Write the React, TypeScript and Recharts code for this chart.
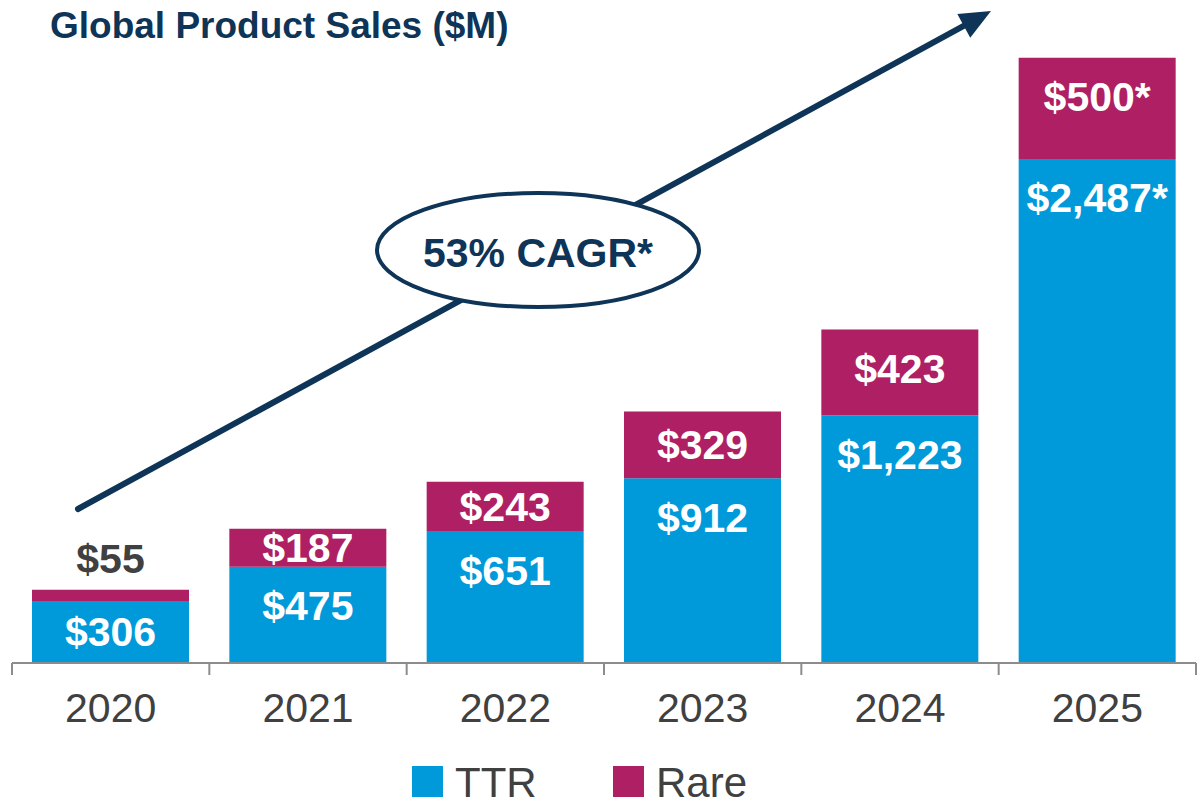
import React from 'react';
import { BarChart, Bar, XAxis, YAxis, LabelList, Legend, Customized } from 'recharts';

const years = ['2020', '2021', '2022', '2023', '2024', '2025'];
const ttrSales = [306, 475, 651, 912, 1223, 2487];
const rareSales = [55, 187, 243, 329, 423, 500];
const estimateMarks = ['', '', '', '', '', '*'];
const seriesNames = ['TTR', 'Rare'];
const boundaryTicks = [-0.5, 0.5, 1.5, 2.5, 3.5, 4.5, 5.5];
const chartTitle = 'Global Product Sales ($M)';
const cagrText = '53% CAGR*';

const FONT = '"Liberation Sans", Arial, Helvetica, sans-serif';
const TTR_COLOR = '#009ADA';
const RARE_COLOR = '#AE1F63';
const NAVY = '#0E3457';
const GREY_TEXT = '#404040';
const AXIS_GREY = '#8C8C8C';

const data = years.map((year, i) => ({
  year,
  slot: i,
  ttr: ttrSales[i],
  rare: rareSales[i],
}));

const makeLabel = (values: number[]) => (props: any) => {
  const vb = props.viewBox || {};
  const x = Number(props.x ?? vb.x);
  const y = Number(props.y ?? vb.y);
  const width = Number(props.width ?? vb.width);
  const height = Math.abs(Number(props.height ?? vb.height));
  let index = props.index;
  if (index === undefined || index === null) index = values.indexOf(Number(props.value));
  const value = Number(props.value);
  const text = `$${value.toLocaleString('en-US')}${estimateMarks[index] || ''}`;
  const cx = x + width / 2;
  let cy: number;
  let fill = '#FFFFFF';
  if (height < 24) {
    cy = y - 31;
    fill = GREY_TEXT;
  } else {
    cy = y + Math.min(39, height / 2);
  }
  return (
    <text
      x={cx}
      y={cy + 14.5}
      textAnchor="middle"
      fontSize={41}
      fontWeight="bold"
      fontFamily={FONT}
      fill={fill}
    >
      {text}
    </text>
  );
};

const Annotations = () => {
  const start = { x: 78, y: 509 };
  const tip = { x: 991, y: 11 };
  const dx = tip.x - start.x;
  const dy = tip.y - start.y;
  const len = Math.sqrt(dx * dx + dy * dy);
  const ux = dx / len;
  const uy = dy / len;
  const headLen = 31;
  const headHalf = 13.5;
  const base = { x: tip.x - ux * headLen, y: tip.y - uy * headLen };
  const px = -uy;
  const py = ux;
  const c1 = { x: base.x + px * headHalf, y: base.y + py * headHalf };
  const c2 = { x: base.x - px * headHalf, y: base.y - py * headHalf };
  const lineEnd = { x: tip.x - ux * (headLen - 2), y: tip.y - uy * (headLen - 2) };
  return (
    <g>
      <text x={50} y={38} fontSize={37} fontWeight="bold" fontFamily={FONT} fill={NAVY}>
        {chartTitle}
      </text>
      <line
        x1={start.x}
        y1={start.y}
        x2={lineEnd.x}
        y2={lineEnd.y}
        stroke={NAVY}
        strokeWidth={6}
        strokeLinecap="round"
      />
      <polygon points={`${tip.x},${tip.y} ${c1.x},${c1.y} ${c2.x},${c2.y}`} fill={NAVY} />
      <ellipse cx={538} cy={250} rx={161} ry={57} fill="#FFFFFF" stroke={NAVY} strokeWidth={4} />
      <text
        x={538}
        y={267}
        textAnchor="middle"
        fontSize={41}
        fontWeight="bold"
        fontFamily={FONT}
        fill={NAVY}
      >
        {cagrText}
      </text>
    </g>
  );
};

const LegendContent = () => {
  const colors = [TTR_COLOR, RARE_COLOR];
  const starts = [0, 201];
  return (
    <svg width={400} height={50} style={{ display: 'block', overflow: 'visible' }}>
      {seriesNames.map((name, i) => (
        <g key={name}>
          <rect x={starts[i]} y={16} width={31} height={31} fill={colors[i]} />
          <text
            x={starts[i] + 43}
            y={47}
            fontSize={42}
            fontFamily={FONT}
            fill={GREY_TEXT}
          >
            {name}
          </text>
        </g>
      ))}
    </svg>
  );
};

const NoTickLabel = () => <g />;

export default function App() {
  return (
    <div style={{ position: 'absolute', left: 0, top: 0, width: 1197, height: 798, background: '#FFFFFF' }}>
      <BarChart
        width={1197}
        height={798}
        data={data}
        margin={{ top: 55, right: 1, left: 12, bottom: 55 }}
        barCategoryGap={20}
      >
        <XAxis
          xAxisId="axisA"
          type="number"
          dataKey="slot"
          domain={[-0.5, 5.5]}
          ticks={boundaryTicks}
          interval={0}
          allowDataOverflow
          tick={NoTickLabel}
          tickSize={12}
          height={1}
          axisLine={{ stroke: AXIS_GREY, strokeWidth: 2 }}
          tickLine={{ stroke: AXIS_GREY, strokeWidth: 2 }}
        />
        <XAxis
          xAxisId="axisB"
          dataKey="year"
          height={79}
          interval={0}
          axisLine={false}
          tickLine={false}
          tickSize={17}
          tickMargin={12}
          tick={{ fill: GREY_TEXT, fontSize: 41, fontFamily: FONT }}
        />
        <YAxis hide domain={[0, 3000]} />
        <Legend
          verticalAlign="middle"
          align="center"
          layout="horizontal"
          wrapperStyle={{ top: 750, left: 412, width: 400, height: 50 }}
          content={LegendContent}
        />
        <Bar
          dataKey="ttr"
          name={seriesNames[0]}
          stackId="sales"
          xAxisId="axisB"
          fill={TTR_COLOR}
          isAnimationActive={false}
        >
          <LabelList dataKey="ttr" content={makeLabel(ttrSales)} />
        </Bar>
        <Bar
          dataKey="rare"
          name={seriesNames[1]}
          stackId="sales"
          xAxisId="axisB"
          fill={RARE_COLOR}
          isAnimationActive={false}
        >
          <LabelList dataKey="rare" content={makeLabel(rareSales)} />
        </Bar>
        <Customized component={Annotations} />
      </BarChart>
    </div>
  );
}
